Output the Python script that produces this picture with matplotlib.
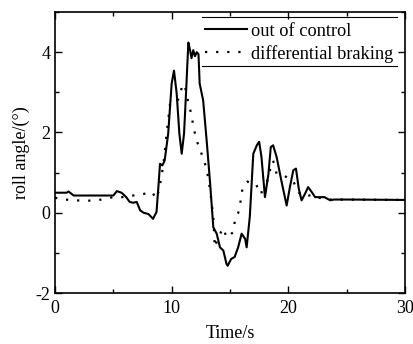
import numpy as np
import matplotlib
matplotlib.use("Agg")
import matplotlib.pyplot as plt
from matplotlib.lines import Line2D
from matplotlib.ticker import MultipleLocator

plt.rcParams['font.family'] = ['Liberation Serif', 'DejaVu Serif']
plt.rcParams['axes.unicode_minus'] = False

# roll angle without control
t_out = [0, 1.0, 1.15, 1.6, 5.0, 5.3, 5.7, 6.1, 6.4, 6.7, 7.0, 7.3, 7.6, 8.0, 8.4, 8.7,
         8.86, 9.0, 9.2, 9.4, 9.7, 10.0, 10.2, 10.43, 10.66, 10.86, 11.06, 11.23, 11.43,
         11.57, 11.7, 11.85, 12.0, 12.15, 12.3, 12.4, 12.7, 13.0, 13.3, 13.57, 13.86, 14.14,
         14.43, 14.7, 14.8, 15.1, 15.4, 15.7, 16.0, 16.3, 16.43, 16.7, 17.0, 17.3, 17.5,
         17.7, 18.0, 18.3, 18.5, 18.7, 19.0, 19.4, 19.86, 20.14, 20.43, 20.66, 20.9, 21.14,
         21.43, 21.7, 22.0, 22.3, 23.1, 23.6, 23.9, 25.3, 30]
y_out = [0.5, 0.5, 0.53, 0.43, 0.43, 0.54, 0.5, 0.39, 0.27, 0.25, 0.27, 0.06, 0.0, -0.03,
         -0.15, 0.02, 0.64, 1.22, 1.18, 1.3, 1.97, 3.22, 3.54, 2.97, 1.97, 1.47, 1.97, 2.97,
         4.24, 4.06, 3.85, 4.05, 3.9, 4.0, 3.95, 3.22, 2.8, 1.8, 0.72, -0.36, -0.52, -0.86,
         -0.94, -1.27, -1.32, -1.15, -1.1, -0.86, -0.52, -0.65, -0.86, -0.1, 1.47, 1.68,
         1.77, 1.39, 0.39, 0.97, 1.64, 1.68, 1.39, 0.81, 0.18, 0.64, 1.06, 1.1, 0.6, 0.31,
         0.47, 0.64, 0.52, 0.39, 0.39, 0.31, 0.33, 0.33, 0.32]

# roll angle with differential braking
t_db = [0, 0.86, 1.7, 2.7, 3.6, 4.3, 5.0, 5.86, 6.7, 7.6, 8.3, 8.7, 8.94, 9.3, 9.57, 9.86,
        10.29, 10.57, 10.94, 11.1, 11.43, 11.71, 11.86, 12.14, 12.5, 13.0, 13.3, 13.57,
        13.7, 14.0, 14.43, 14.71, 15.29, 15.43, 15.71, 15.91, 16.06, 16.5, 17.14, 17.57,
        17.8, 18.0, 18.3, 18.7, 19.0, 19.6, 20.4, 20.9, 21.5, 22.0, 22.5, 23.5, 30]
y_db = [0.375, 0.33, 0.31, 0.3, 0.31, 0.35, 0.39, 0.39, 0.43, 0.47, 0.52, 0.35, 0.6, 1.22,
        1.97, 2.72, 2.72, 2.83, 3.18, 3.2, 2.74, 2.43, 2.14, 1.8, 1.52, 1.1, 0.56, -0.1,
        -0.86, -0.6, -0.38, -0.62, -0.48, -0.17, 0.0, 0.29, 0.58, 0.78, 0.64, 0.7, 0.39,
        0.5, 0.95, 1.3, 0.97, 0.93, 0.8, 0.5, 0.4, 0.45, 0.38, 0.33, 0.32]

fig = plt.figure(figsize=(4.14, 3.44), dpi=100)
ax = fig.add_axes([0.133, 0.148, 0.845, 0.817])

ax.plot(t_out, y_out, color='black', lw=1.5, label='out of control')
ax.plot(t_db, y_db, color='black', lw=1.6, linestyle=(0, (1, 4)), label='differential braking')

ax.set_xlim(0, 30)
ax.set_ylim(-2, 5)
ax.set_xticks([0, 10, 20, 30])
ax.set_yticks([-2, 0, 2, 4])
ax.xaxis.set_minor_locator(MultipleLocator(5))
ax.yaxis.set_minor_locator(MultipleLocator(1))
ax.tick_params(which='both', direction='in', top=True, right=True, labelsize=13, width=1)
ax.tick_params(which='major', length=5)
ax.tick_params(which='minor', length=3)
ax.tick_params(axis='x', pad=5)
for s in ax.spines.values():
    s.set_linewidth(1.2)

ax.set_xlabel('Time/s', fontsize=13, labelpad=6)
ax.set_ylabel('roll angle/(°)', fontsize=13, labelpad=4)

leg = ax.legend(loc='upper left', bbox_to_anchor=(0.428, 0.962), frameon=False, fontsize=13.2,
                handlelength=2.3, handletextpad=0.2, borderaxespad=0, borderpad=0,
                labelspacing=0.28)
# top and bottom rules of the legend box
for yy in (0.982, 0.808):
    ax.add_line(Line2D([0.42, 0.977], [yy, yy], transform=ax.transAxes, color='black', lw=0.8))

fig.savefig('out.png', dpi=100)
